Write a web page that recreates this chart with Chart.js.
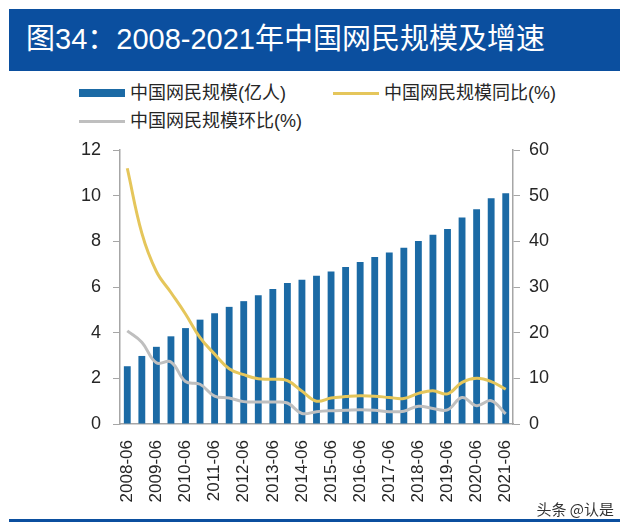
<!DOCTYPE html>
<html>
<head>
<meta charset="utf-8">
<script src="https://cdn.jsdelivr.net/npm/chart.js@4.4.0/dist/chart.umd.min.js"></script>
<style>
  body { margin: 0; background: #fff; }
  #wrap { position: relative; width: 628px; height: 532px; overflow: hidden; font-family: "Liberation Sans", "Noto Sans CJK SC", sans-serif; }
  #banner { position: absolute; left: 9px; top: 9px; width: 611px; height: 62px; background: #0b4f9f; }
  #banner span { position: absolute; left: 17px; top: 12px; color: #fff; font-size: 29px; line-height: 36px; white-space: nowrap; }
  #chartBox { position: absolute; left: 0; top: 0; width: 628px; height: 532px; }
  .leg { position: absolute; height: 24px; line-height: 24px; font-size: 18px; color: #262626; white-space: nowrap; }
  .leg i { position: absolute; left: 0; width: 46px; }
  .leg span { position: absolute; left: 51px; top: 0; }
  #foot { position: absolute; left: 9px; top: 519px; width: 611px; height: 3px; background: #0b4f9f; }
  #mark { position: absolute; right: 14px; top: 498px; font-size: 15px; color: #333; font-family: "Noto Sans CJK SC", sans-serif; }
</style>
</head>
<body>
<div id="wrap">
  <div id="banner"><span>图34：2008-2021年中国网民规模及增速</span></div>
  <div class="leg" style="left:79px; top:81px;"><i style="top:8px; height:8px; background:#1b6aa5;"></i><span>中国网民规模(亿人)</span></div>
  <div class="leg" style="left:333px; top:81px;"><i style="top:11px; height:3px; background:#e5c65b;"></i><span>中国网民规模同比(%)</span></div>
  <div class="leg" style="left:79px; top:109px;"><i style="top:11px; height:3px; background:#bfbfbf;"></i><span>中国网民规模环比(%)</span></div>
  <div id="chartBox"><canvas id="chart"></canvas></div>
  <div id="foot"></div>
  <div id="mark">头条 @认是</div>
</div>
<script>
// half-year periods, 2008-06 .. 2021-06
const periods = [
  "2008-06", "2008-12", "2009-06", "2009-12", "2010-06", "2010-12", "2011-06", "2011-12",
  "2012-06", "2012-12", "2013-06", "2013-12", "2014-06", "2014-12", "2015-06", "2015-12",
  "2016-06", "2016-12", "2017-06", "2017-12", "2018-06", "2018-12", "2019-06", "2019-12",
  "2020-06", "2020-12", "2021-06"
];

// 中国网民规模 (亿人)
const netizens = [
  2.53, 2.98, 3.38, 3.84, 4.20, 4.57, 4.85, 5.13, 5.38, 5.64, 5.91, 6.18, 6.32, 6.49,
  6.68, 6.88, 7.10, 7.31, 7.51, 7.72, 8.02, 8.29, 8.54, 9.04, 9.40, 9.89, 10.11
];

// 同比 (%)
const yoy = [
  56.0, 41.8, 33.4, 28.8, 24.1, 18.9, 15.3, 12.1, 10.8, 9.9, 9.8, 9.5, 7.2, 5.0,
  5.7, 6.0, 6.2, 6.1, 5.8, 5.6, 6.7, 7.3, 6.6, 9.1, 10.0, 9.3, 7.6
];

// 环比 (%)
const qoq = [
  20.4, 17.9, 13.4, 13.6, 9.3, 8.7, 6.1, 5.7, 4.9, 4.8, 4.8, 4.6, 2.3, 2.7,
  2.9, 3.0, 3.1, 3.0, 2.7, 2.8, 3.9, 3.4, 3.1, 5.8, 4.0, 5.1, 2.2
];

const leftTicks = [0, 2, 4, 6, 8, 10, 12];
const rightTicks = [0, 10, 20, 30, 40, 50, 60];

const axisGray = "#a6a6a6";
const tickFont = { family: "Liberation Sans", size: 18 };

const ctx = document.getElementById("chart").getContext("2d");
new Chart(ctx, {
  data: {
    labels: periods,
    datasets: [
      {
        type: "line",
        label: "中国网民规模同比(%)",
        data: yoy,
        yAxisID: "y1",
        borderColor: "#e5c65b",
        borderWidth: 3,
        pointRadius: 0,
        tension: 0.4,
        order: 0,
      },
      {
        type: "line",
        label: "中国网民规模环比(%)",
        data: qoq,
        yAxisID: "y1",
        borderColor: "#bfbfbf",
        borderWidth: 3,
        pointRadius: 0,
        tension: 0.4,
        order: 1,
      },
      {
        type: "bar",
        label: "中国网民规模(亿人)",
        data: netizens,
        yAxisID: "y",
        backgroundColor: "#1b6aa5",
        categoryPercentage: 1,
        barPercentage: 0.47,
        order: 2,
      },
    ],
  },
  options: {
    responsive: true,
    maintainAspectRatio: false,
    animation: false,
    layout: { padding: { left: 60, right: 55, top: 150, bottom: 13 } },
    plugins: { legend: { display: false }, tooltip: { enabled: false } },
    scales: {
      x: {
        offset: true,
        grid: { display: false, drawTicks: false },
        border: { color: axisGray, width: 1.5 },
        afterFit: (scale) => { scale.height = 95; },
        ticks: {
          autoSkip: false,
          maxRotation: 90,
          minRotation: 90,
          padding: 16,
          color: "#262626",
          font: { family: "Liberation Sans", size: 17 },
          callback: (value, index) => (index % 2 === 0 ? periods[index] : ""),
        },
      },
      y: {
        position: "left",
        min: 0,
        max: 12,
        afterFit: (scale) => { scale.width = 60; },
        afterBuildTicks: (scale) => { scale.ticks = leftTicks.map((v) => ({ value: v })); },
        grid: { drawOnChartArea: false, drawTicks: true, tickLength: 7, color: axisGray },
        border: { color: axisGray, width: 1.5 },
        ticks: { color: "#262626", font: tickFont, padding: 12 },
      },
      y1: {
        position: "right",
        min: 0,
        max: 60,
        afterFit: (scale) => { scale.width = 60; },
        afterBuildTicks: (scale) => { scale.ticks = rightTicks.map((v) => ({ value: v })); },
        grid: { drawOnChartArea: false, drawTicks: true, tickLength: 7, color: axisGray },
        border: { color: axisGray, width: 1.5 },
        ticks: { color: "#262626", font: tickFont, padding: 9 },
      },
    },
  },
});
</script>
</body>
</html>
